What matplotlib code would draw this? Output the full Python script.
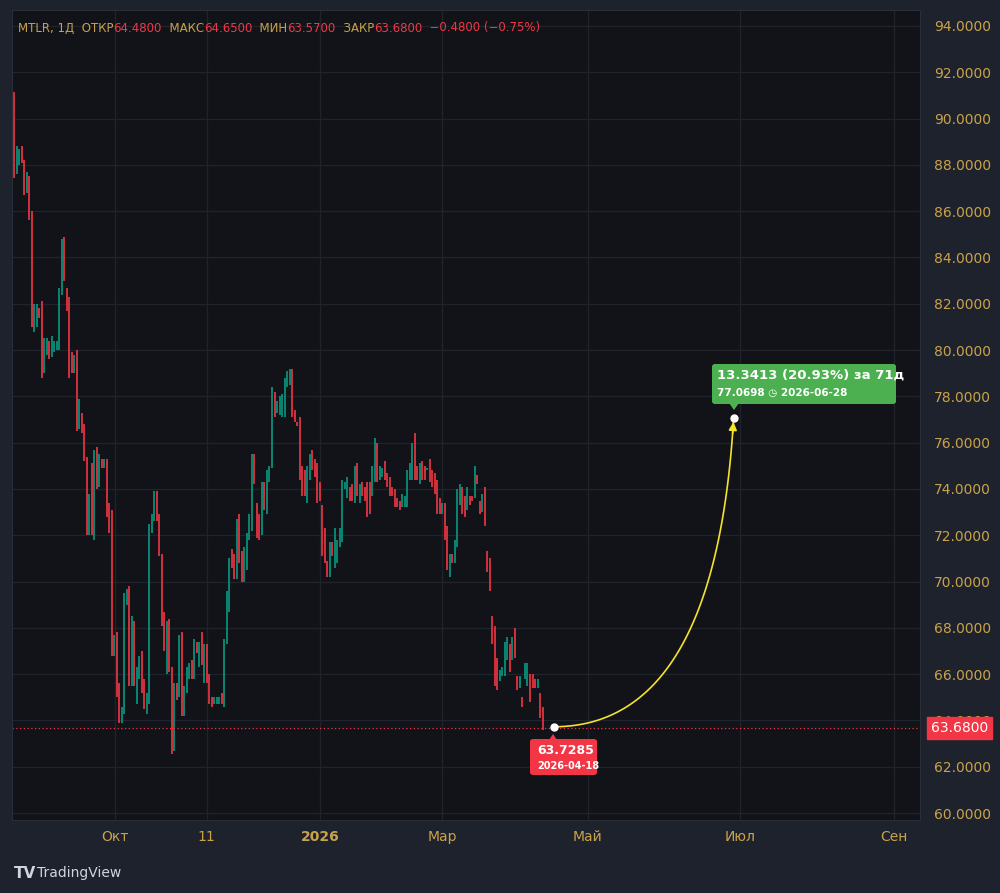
import numpy as np
import matplotlib.pyplot as plt
from matplotlib.patches import FancyBboxPatch, Polygon

# daily candles (open, close)
opens = [91.15, 87.6, 88.0, 88.8, 88.2, 86.8, 87.5, 86.0, 80.8, 81.0, 81.8, 82.1, 79.0, 79.8, 80.4, 79.7,
         79.9, 80.0, 80.0, 82.4, 84.9, 82.7, 82.3, 79.9, 79.0, 80.0, 76.6, 77.3, 76.8, 75.4, 72.0, 75.1,
         71.8, 75.8, 74.1, 75.3, 74.9, 75.3, 73.4, 73.1, 66.8, 67.8, 65.6, 63.9, 64.3, 69.0, 69.8, 65.5,
         68.3, 64.7, 65.8, 67.0, 65.8, 64.3, 64.7, 72.1, 72.6, 73.9, 72.9, 71.2, 68.7, 66.0, 68.4, 66.3,
         62.7, 65.6, 65.0, 67.8, 64.2, 65.2, 65.8, 66.6, 65.8, 67.4, 66.3, 67.8, 65.6, 67.3, 66.0, 65.0,
         64.7, 64.7, 64.7, 65.2, 64.6, 67.3, 68.7, 71.4, 71.2, 70.1, 72.9, 71.3, 70.0, 70.5, 71.8, 72.2,
         75.5, 73.4, 72.9, 72.0, 74.3, 72.9, 74.3, 74.9, 78.2, 77.3, 77.2, 77.1, 77.1, 78.4, 78.5, 79.2,
         77.4, 76.9, 77.1, 75.0, 74.8, 73.4, 74.4, 75.7, 75.3, 75.1, 74.3, 73.3, 72.3, 70.9, 70.2, 71.7,
         70.6, 70.8, 71.5, 71.7, 74.0, 73.6, 74.1, 74.2, 73.4, 75.1, 73.4, 74.3, 74.1, 74.3, 74.3, 73.7,
         74.3, 76.0, 74.4, 74.5, 75.2, 74.7, 74.5, 74.1, 74.0, 73.6, 73.5, 73.2, 73.2, 73.2, 74.4, 74.4,
         76.4, 75.0, 74.2, 75.2, 75.0, 74.8, 75.3, 74.8, 74.7, 74.4, 73.6, 72.9, 73.4, 72.4, 70.2, 71.2,
         70.8, 71.5, 73.3, 74.1, 73.7, 73.1, 73.7, 73.7, 73.6, 74.6, 73.5, 73.0, 74.1, 71.3, 71.0, 68.5,
         68.1, 66.7, 65.7, 65.9, 65.9, 66.6, 67.3, 66.6, 68.0, 65.9, 65.4, 65.0, 65.8, 65.5, 66.0, 66.0,
         65.8, 65.4, 65.2, 64.6]
closes = [87.45, 88.8, 88.7, 88.1, 86.7, 87.7, 85.6, 81.0, 82.0, 82.0, 81.4, 78.8, 80.5, 80.5, 79.6, 80.6,
          80.4, 80.4, 82.7, 84.8, 83.0, 81.7, 78.8, 79.0, 79.8, 76.5, 77.9, 76.4, 75.2, 72.0, 73.8, 72.0,
          75.7, 74.0, 75.5, 74.9, 75.3, 72.8, 72.1, 66.8, 67.7, 65.0, 63.9, 64.6, 69.5, 69.7, 65.5, 68.5,
          65.5, 66.3, 66.8, 65.2, 64.5, 65.2, 72.5, 72.9, 73.9, 72.6, 71.1, 68.1, 67.0, 68.3, 66.1, 62.55,
          65.6, 64.9, 67.7, 64.2, 65.5, 66.3, 66.5, 65.8, 67.5, 66.9, 67.4, 66.4, 67.3, 65.6, 64.7, 64.6,
          65.0, 65.0, 65.0, 64.7, 67.5, 69.6, 71.0, 70.6, 70.1, 72.7, 70.8, 70.0, 71.5, 72.1, 72.9, 75.5,
          74.2, 71.9, 71.8, 74.3, 73.1, 74.8, 75.0, 78.4, 77.1, 77.8, 78.0, 78.1, 78.8, 79.1, 79.2, 77.1,
          76.9, 76.7, 74.4, 73.7, 73.7, 75.0, 75.5, 74.8, 74.5, 73.4, 73.5, 71.1, 70.8, 70.2, 71.7, 71.1,
          72.3, 71.8, 72.3, 74.4, 74.3, 74.5, 73.5, 73.5, 75.0, 73.7, 74.2, 73.7, 73.5, 72.8, 72.9, 75.0,
          76.2, 74.3, 75.0, 74.9, 74.4, 74.1, 73.7, 73.7, 73.2, 73.2, 73.1, 73.8, 73.7, 74.8, 75.1, 76.0,
          74.4, 74.4, 75.1, 74.4, 74.4, 74.9, 74.3, 74.1, 73.8, 72.9, 72.9, 73.4, 71.8, 70.5, 71.2, 70.8,
          71.8, 74.0, 74.2, 72.9, 72.8, 74.1, 73.3, 73.5, 75.0, 74.2, 72.9, 73.8, 72.4, 70.4, 69.6, 67.3,
          65.5, 65.3, 66.2, 66.3, 67.4, 67.6, 66.1, 67.6, 66.7, 65.3, 65.9, 64.6, 66.5, 66.5, 64.8, 65.4,
          65.4, 65.8, 64.1, 63.6]

month_ticks = [40.2, 76.9, 122.3, 171, 229, 290, 351.4]
month_labels = ["Окт", "11", "2026", "Мар", "Май", "Июл", "Сен"]
price_ticks = list(range(60, 96, 2))

last_close = 63.68
proj_start = (215.5, 63.7285)
proj_end = (287.3, 77.0698)

BG = "#111318"
FRAME = "#1e222d"
GRID = "#1f232b"
TXT = "#c9a24a"
RED = "#f23645"
GREEN = "#089981"

plt.rcParams['font.family'] = ['DejaVu Sans']
fig = plt.figure(figsize=(10, 8.93), dpi=100)
fig.patch.set_facecolor(FRAME)
ax = fig.add_axes([0.012, 1 - 820 / 893, 0.908, 810 / 893])
ax.set_facecolor(BG)

idx = np.arange(len(opens))
o = np.array(opens)
c = np.array(closes)
cols = np.where(c >= o, GREEN, RED)
ax.vlines(idx, np.minimum(o, c), np.maximum(o, c), colors=cols, linewidth=1.2)

ax.set_xlim(-0.8, 361.7)
ax.set_ylim(59.7, 94.69)
ax.set_xticks(month_ticks)
ax.set_xticklabels(month_labels)
ax.get_xticklabels()[2].set_fontweight("bold")
ax.set_yticks(price_ticks)
ax.set_yticklabels([f"{p:.4f}" for p in price_ticks])
ax.yaxis.tick_right()
ax.tick_params(axis="both", colors=TXT, labelsize=10, length=0)
ax.tick_params(axis="x", pad=7)
ax.tick_params(axis="y", pad=10)
ax.grid(True, color=GRID, linewidth=0.9)
for s in ax.spines.values():
    s.set_color("#2a2e39")

# last price line
ax.axhline(last_close, color=RED, linestyle=(0, (1, 2)), linewidth=0.9)
ax.text(1.012, last_close, f"{last_close:.4f}", transform=ax.get_yaxis_transform(), ha="left", va="center",
        color="white", fontsize=10, bbox=dict(boxstyle="square,pad=0.3", fc=RED, ec=RED), clip_on=False,
        zorder=5)

# projection curve (quadratic bezier)
t = np.linspace(0, 1, 100)
cx, cy = 280, 63.73
bx = (1 - t) ** 2 * proj_start[0] + 2 * (1 - t) * t * cx + t ** 2 * proj_end[0]
by = (1 - t) ** 2 * proj_start[1] + 2 * (1 - t) * t * cy + t ** 2 * proj_end[1]
ax.plot(bx, by, color="#f5e22c", linewidth=1.2)
ax.annotate("", xy=(proj_end[0], proj_end[1] - 0.05), xytext=(bx[-4], by[-4]),
            arrowprops=dict(arrowstyle="-|>", color="#f5e22c", lw=1.2, mutation_scale=12))
ax.plot(*proj_start, "o", color="white", markersize=5)
ax.plot(*proj_end, "o", color="white", markersize=5)

# green label
pct = (proj_end[1] - proj_start[1]) / proj_start[1] * 100
fig.patches.append(FancyBboxPatch((712 / 1000, 1 - 404 / 893), 184 / 1000, 40 / 893,
                                  boxstyle="round,pad=0,rounding_size=0.003", fc="#4caf50", ec="none",
                                  transform=fig.transFigure))
fig.patches.append(Polygon([(729 / 1000, 1 - 403 / 893), (739 / 1000, 1 - 403 / 893), (734 / 1000, 1 - 410 / 893)],
                           closed=True, fc="#4caf50", ec="none", transform=fig.transFigure))
fig.text(717 / 1000, 1 - 375 / 893, f"{proj_end[1] - proj_start[1]:.4f} ({pct:.2f}%) за 71д", color="white",
         fontsize=9.5, fontweight="bold", va="center")
fig.text(717 / 1000, 1 - 393 / 893, f"{proj_end[1]:.4f} ◷ 2026-06-28", color="white", fontsize=7.5,
         fontweight="bold", va="center")

# red label
fig.patches.append(FancyBboxPatch((530 / 1000, 1 - 775 / 893), 67 / 1000, 36 / 893,
                                  boxstyle="round,pad=0,rounding_size=0.003", fc=RED, ec="none",
                                  transform=fig.transFigure))
fig.patches.append(Polygon([(549 / 1000, 1 - 740 / 893), (557 / 1000, 1 - 740 / 893), (553 / 1000, 1 - 734 / 893)],
                           closed=True, fc=RED, ec="none", transform=fig.transFigure))
fig.text(537 / 1000, 1 - 750 / 893, f"{proj_start[1]:.4f}", color="white", fontsize=9, fontweight="bold", va="center")
fig.text(537 / 1000, 1 - 766 / 893, "2026-04-18", color="white", fontsize=7, fontweight="bold", va="center")

# header
parts = [("MTLR, 1Д  ОТКР", TXT), ("64.4800", RED), ("  МАКС", TXT), ("64.6500", RED), ("  МИН", TXT),
         ("63.5700", RED), ("  ЗАКР", TXT), ("63.6800", RED), ("  −0.4800 (−0.75%)", RED)]
xpos = 18 / 1000
r = fig.canvas.get_renderer()
for s, col in parts:
    tx = fig.text(xpos, 1 - 28 / 893, s, color=col, fontsize=8.5, va="center")
    xpos += tx.get_window_extent(r).width / 1000

fig.text(14 / 1000, 1 - 873 / 893, "TV", color="#d1d4dc", fontsize=11, fontweight="heavy", va="center")
fig.text(37 / 1000, 1 - 873 / 893, "TradingView", color="#d1d4dc", fontsize=10, va="center")

fig.savefig("out.png", dpi=100, facecolor=FRAME)
